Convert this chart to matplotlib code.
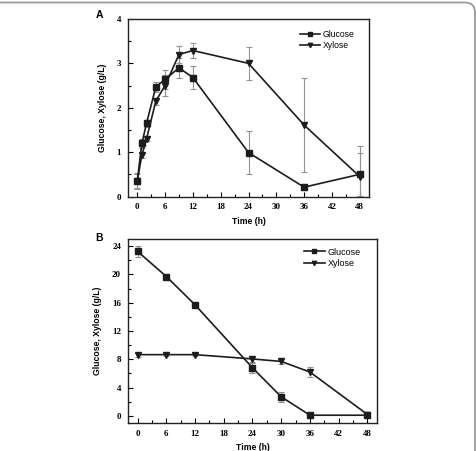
import matplotlib
matplotlib.use("Agg")
import matplotlib.pyplot as plt
from matplotlib.patches import FancyBboxPatch
from matplotlib.transforms import IdentityTransform
from matplotlib.ticker import MultipleLocator

# Panel A data
time_a = [0, 1, 2, 4, 6, 9, 12, 24, 36, 48]
glucose_a = [0.35, 1.2, 1.65, 2.47, 2.64, 2.9, 2.68, 0.99, 0.21, 0.5]
glucose_a_err = [0.17, 0.1, 0.08, 0.12, 0.22, 0.23, 0.26, 0.48, 0.07, 0.48]
xylose_a = [0.35, 0.94, 1.3, 2.15, 2.5, 3.2, 3.29, 3.0, 1.61, 0.45]
xylose_a_err = [0.15, 0.07, 0.06, 0.08, 0.23, 0.2, 0.18, 0.38, 1.05, 0.69]

# Panel B data
time_b = [0, 6, 12, 24, 30, 36, 48]
glucose_b = [23.25, 19.7, 15.7, 6.8, 2.7, 0.1, 0.1]
glucose_b_err = [0.8, 0.3, 0.2, 0.7, 0.75, 0.1, 0.3]
xylose_b = [8.66, 8.66, 8.66, 8.05, 7.7, 6.2, 0.2]
xylose_b_err = [0.3, 0.2, 0.2, 0.4, 0.3, 0.65, 0.4]

x_ticks = [0, 6, 12, 18, 24, 30, 36, 42, 48]
series_names = ["Glucose", "Xylose"]
ylabel = "Glucose, Xylose (g/L)"
xlabel = "Time (h)"

W, H = 477, 451
fig = plt.figure(figsize=(W / 100, H / 100), dpi=100)

line_col = "#1c1c1c"
err_col = "#929292"
serif = ["Liberation Serif", "DejaVu Serif"]
sans = ["Liberation Sans", "DejaVu Sans"]


def style_axes(ax, yticks, yminor):
    ax.set_xlim(-2, 50)
    ax.set_xticks(x_ticks)
    ax.xaxis.set_minor_locator(MultipleLocator(3))
    ax.set_yticks(yticks)
    ax.yaxis.set_minor_locator(MultipleLocator(yminor))
    ax.tick_params(which="both", direction="in", top=False, right=False, width=0.8)
    ax.tick_params(which="major", length=3.5, pad=5)
    ax.tick_params(which="minor", length=2)
    for lab in ax.get_xticklabels() + ax.get_yticklabels():
        lab.set_fontfamily(serif)
        lab.set_fontweight("bold")
        lab.set_fontsize(6.5)
    for s in ax.spines.values():
        s.set_linewidth(1.0)
        s.set_color("#222222")
    ax.set_xlabel(xlabel, fontfamily=sans, fontweight="bold", fontsize=6.2, labelpad=4)
    ax.set_ylabel(ylabel, fontfamily=sans, fontweight="bold", fontsize=6.2, labelpad=7)


def plot_series(ax, t, g, ge, x, xe):
    ax.errorbar(t, g, yerr=ge, fmt="none", ecolor=err_col, elinewidth=0.8, capsize=2, capthick=0.8, zorder=2)
    ax.errorbar(t, x, yerr=xe, fmt="none", ecolor=err_col, elinewidth=0.8, capsize=2, capthick=0.8, zorder=2)
    ax.plot(t, g, color=line_col, lw=1.2, marker="s", ms=4, label=series_names[0], zorder=3)
    ax.plot(t, x, color=line_col, lw=1.2, marker="v", ms=4.5, label=series_names[1], zorder=3)


def add_legend(ax, anchor, size):
    ax.legend(loc="upper left", bbox_to_anchor=anchor, frameon=False,
              prop={"family": sans, "size": size}, handlelength=2.3,
              handletextpad=0.3, labelspacing=0.3, borderaxespad=0, borderpad=0,
              markerscale=0.7)


axA = fig.add_axes([128 / W, 1 - 196.5 / H, 241 / W, 177.5 / H])
plot_series(axA, time_a, glucose_a, glucose_a_err, xylose_a, xylose_a_err)
axA.set_ylim(0, 4)
style_axes(axA, [0, 1, 2, 3, 4], 0.5)
add_legend(axA, (0.714, 0.94), 6.2)

axB = fig.add_axes([128 / W, 1 - 423 / H, 249 / W, 184 / H])
plot_series(axB, time_b, glucose_b, glucose_b_err, xylose_b, xylose_b_err)
axB.set_ylim(-1, 25)
style_axes(axB, [0, 4, 8, 12, 16, 20, 24], 2)
add_legend(axB, (0.707, 0.953), 6.5)

fig.text(99 / W, 1 - 15 / H, "A", fontfamily=sans, fontweight="bold", fontsize=7.5, va="center", ha="center")
fig.text(99 / W, 1 - 238 / H, "B", fontfamily=sans, fontweight="bold", fontsize=7.5, va="center", ha="center")

# outer rounded frame (only top and right visible)
frame = FancyBboxPatch((-30, -30), 475 + 30, (H - 2.5) + 30,
                       boxstyle="round,pad=0,rounding_size=10",
                       transform=IdentityTransform(), fill=False,
                       edgecolor="#9a9a9a", linewidth=1.3)
fig.patches.append(frame)

fig.savefig("out.png", dpi=100)
